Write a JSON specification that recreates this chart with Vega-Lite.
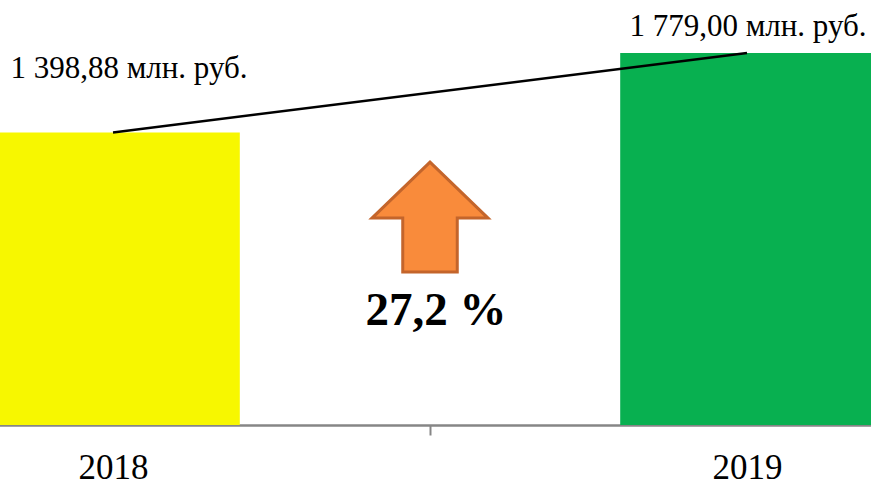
{
  "$schema": "https://vega.github.io/schema/vega-lite/v6.json",
  "width": 871,
  "height": 425,
  "padding": {"left": 0, "top": 0, "right": 0, "bottom": 60},
  "autosize": {"type": "none"},
  "background": "white",
  "config": {"view": {"stroke": null}, "font": "Liberation Serif"},
  "datasets": {
    "sales": [
      {"year": "2018", "value": 1398.88, "label": "1 398,88 млн. руб."},
      {"year": "2019", "value": 1779.0, "label": "1 779,00 млн. руб."}
    ],
    "growth": [{"from": "2018", "to": "2019", "change": "27,2 %"}]
  },
  "data": {"name": "sales"},
  "encoding": {
    "x": {
      "field": "year",
      "type": "nominal",
      "scale": {"type": "band", "domain": ["2018", "2019"], "range": [-204, 1064], "paddingInner": 0, "paddingOuter": 0},
      "axis": {
        "title": null,
        "domainColor": "#868686",
        "domainWidth": 2.5,
        "tickColor": "#868686",
        "tickWidth": 2,
        "tickSize": 10,
        "tickBand": "extent",
        "labelFont": "Liberation Serif",
        "labelFontSize": 35,
        "labelColor": "black",
        "labelAngle": 0,
        "labelBaseline": "alphabetic",
        "labelPadding": 43,
        "labelFlush": false,
        "labelOverlap": false,
        "labelBound": false,
        "grid": false
      }
    }
  },
  "layer": [
    {
      "mark": {"type": "bar", "width": {"band": 0.4}},
      "encoding": {
        "y": {"field": "value", "type": "quantitative", "scale": {"domain": [0, 2032], "nice": false}, "axis": null},
        "color": {"field": "year", "type": "nominal", "scale": {"domain": ["2018", "2019"], "range": ["#F7F700", "#08B050"]}, "legend": null}
      }
    },
    {
      "mark": {"type": "line", "color": "black", "strokeWidth": 2.5},
      "encoding": {"y": {"field": "value", "type": "quantitative"}}
    },
    {
      "transform": [{"filter": "datum.year === '2018'"}],
      "mark": {"type": "text", "dx": 16, "dy": -54, "baseline": "alphabetic", "align": "center", "fontSize": 31, "font": "Liberation Serif", "color": "black"},
      "encoding": {"y": {"field": "value", "type": "quantitative"}, "text": {"field": "label"}}
    },
    {
      "transform": [{"filter": "datum.year === '2019'"}],
      "mark": {"type": "text", "dx": 1, "dy": -17, "baseline": "alphabetic", "align": "center", "fontSize": 31, "font": "Liberation Serif", "color": "black"},
      "encoding": {"y": {"field": "value", "type": "quantitative"}, "text": {"field": "label"}}
    },
    {
      "data": {"name": "growth"},
      "mark": {"type": "point", "shape": "M0,-0.948 L1,0.017 L0.47,0.017 L0.47,0.948 L-0.47,0.948 L-0.47,0.017 L-1,0.017 Z", "filled": true, "fill": "#F98B3B", "stroke": "#C4652B", "strokeWidth": 3, "size": 13456, "opacity": 1},
      "encoding": {"x": {"datum": "2018", "bandPosition": 1}, "y": {"datum": 994}}
    },
    {
      "data": {"name": "growth"},
      "mark": {"type": "text", "baseline": "alphabetic", "align": "center", "fontSize": 47, "fontWeight": "bold", "font": "Liberation Serif", "color": "black", "dx": 6},
      "encoding": {"x": {"datum": "2018", "bandPosition": 1}, "y": {"datum": 478}, "text": {"field": "change"}}
    }
  ]
}
